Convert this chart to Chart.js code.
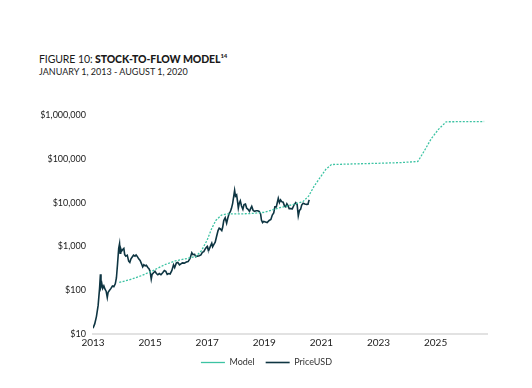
<!DOCTYPE html>
<html>
<head>
<meta charset="utf-8">
<script src="https://cdn.jsdelivr.net/npm/chart.js@4.4.0/dist/chart.umd.min.js"></script>
<style>
  html, body { margin: 0; padding: 0; background: #fff; }
  #wrap { position: relative; width: 532px; height: 388px; }
  #title { position: absolute; left: 39px; top: 52px; font-family: Lato, sans-serif; font-size: 10.5px; color: #1a1a1a; letter-spacing: -0.1px; }
  #title b { font-weight: 900; }
  #title sup { font-size: 6px; font-weight: 900; }
  #sub { position: absolute; left: 39px; top: 66px; font-family: Lato, sans-serif; font-size: 9px; color: #222; }
  canvas { position: absolute; left: 0; top: 0; }
</style>
</head>
<body>
<div id="wrap">
  <div id="title">FIGURE 10: <b>STOCK-TO-FLOW MODEL</b><sup>14</sup></div>
  <div id="sub">JANUARY 1, 2013 - AUGUST 1, 2020</div>
  <canvas id="myChart" width="532" height="388"></canvas>
</div>
<script>
// model (stock-to-flow)
const modelYears = [2013.92, 2014.3, 2014.7, 2015.1, 2015.5, 2015.9, 2016.3, 2016.6, 2016.8, 2017.0, 2017.15, 2017.3, 2017.5, 2017.7, 2018.0, 2018.5, 2019.0, 2019.5, 2020.0, 2020.35, 2020.55, 2020.75, 2020.95, 2021.15, 2021.35, 2022.0, 2023.0, 2023.8, 2024.38, 2024.6, 2024.85, 2025.1, 2025.37, 2026.7];
const modelValues = [150, 175, 215, 280, 380, 470, 530, 590, 800, 1400, 2500, 3900, 5200, 5500, 5500, 5600, 6000, 7500, 9000, 10500, 14000, 24000, 37000, 57000, 74000, 76000, 79000, 82000, 87000, 150000, 290000, 470000, 700000, 710000];

// BTC price in USD
const priceYears = [
  2013.00, 2013.06, 2013.12, 2013.18, 2013.23, 2013.26, 2013.28, 2013.31, 2013.34, 2013.38, 2013.42, 2013.46, 2013.50, 2013.53, 2013.58, 2013.63, 2013.68, 2013.73, 2013.78, 2013.82, 2013.86, 2013.90, 2013.93, 2013.95, 2013.97,
  2014.00, 2014.04, 2014.08, 2014.11, 2014.15, 2014.20, 2014.25, 2014.29, 2014.33, 2014.38, 2014.42, 2014.47, 2014.51, 2014.55, 2014.60, 2014.65, 2014.70, 2014.74, 2014.78, 2014.83, 2014.87, 2014.92, 2014.96,
  2015.00, 2015.04, 2015.07, 2015.12, 2015.17, 2015.22, 2015.27, 2015.32, 2015.38, 2015.44, 2015.50, 2015.55, 2015.60, 2015.65, 2015.70, 2015.76, 2015.82, 2015.86, 2015.92, 2015.97,
  2016.03, 2016.08, 2016.13, 2016.20, 2016.27, 2016.33, 2016.40, 2016.46, 2016.50, 2016.56, 2016.60, 2016.66, 2016.72, 2016.78, 2016.83, 2016.88, 2016.94,
  2017.00, 2017.02, 2017.06, 2017.11, 2017.16, 2017.19, 2017.23, 2017.28, 2017.33, 2017.38, 2017.42, 2017.46, 2017.51, 2017.54, 2017.58, 2017.63, 2017.68, 2017.72, 2017.77, 2017.81, 2017.85, 2017.89, 2017.93, 2017.96, 2017.99,
  2018.03, 2018.06, 2018.09, 2018.12, 2018.16, 2018.20, 2018.25, 2018.29, 2018.34, 2018.38, 2018.43, 2018.48, 2018.52, 2018.56, 2018.61, 2018.66, 2018.71, 2018.77, 2018.82, 2018.87, 2018.90, 2018.94, 2018.98,
  2019.04, 2019.10, 2019.17, 2019.23, 2019.28, 2019.33, 2019.37, 2019.42, 2019.47, 2019.49, 2019.53, 2019.57, 2019.61, 2019.66, 2019.71, 2019.75, 2019.79, 2019.83, 2019.87, 2019.92, 2019.98,
  2020.04, 2020.10, 2020.15, 2020.19, 2020.23, 2020.27, 2020.31, 2020.36, 2020.42, 2020.48, 2020.53, 2020.56, 2020.58
];
const priceValues = [
  13.5, 17, 25, 45, 110, 230, 120, 140, 110, 125, 105, 95, 68, 90, 100, 110, 125, 120, 140, 190, 400, 900, 1150, 700, 900,
  780, 850, 900, 650, 600, 630, 460, 430, 520, 580, 630, 600, 640, 590, 520, 480, 400, 340, 380, 360, 370, 330, 310,
  270, 180, 230, 250, 270, 240, 225, 240, 225, 250, 280, 270, 230, 240, 235, 280, 380, 330, 420, 430,
  380, 400, 420, 415, 440, 450, 530, 720, 650, 660, 580, 600, 610, 640, 730, 760, 900,
  1000, 900, 830, 1000, 1180, 980, 1100, 1250, 1700, 2300, 2600, 2500, 2300, 2700, 3900, 4500, 3400, 4400, 5700, 6200, 7400, 9500, 14000, 19000, 14000,
  15000, 11000, 7500, 9500, 11000, 8500, 7000, 9000, 9300, 7500, 7000, 6300, 7300, 8200, 6600, 6300, 6500, 6500, 6300, 5500, 4000, 3500, 3700,
  3600, 3500, 3900, 4100, 5200, 5800, 8000, 8000, 11000, 12500, 10000, 11500, 10500, 10200, 8300, 8000, 9400, 8500, 7300, 7300, 7200,
  8800, 10000, 9000, 5000, 6600, 7000, 8800, 9700, 9300, 9100, 9200, 11000, 11500
];

const xTicks = [2013, 2015, 2017, 2019, 2021, 2023, 2025];
const yTicks = [10, 100, 1000, 10000, 100000, 1000000];

const toXY = (xs, ys) => xs.map((x, i) => ({ x: x, y: ys[i] }));

// the legend in the original sits centred under the plot, a bit higher
const legendShift = {
  id: 'legendShift',
  afterLayout(chart) {
    const l = chart.legend;
    l.left += 17; l.right += 17;
    l.top -= 5; l.bottom -= 5;
  }
};

const ctx = document.getElementById('myChart').getContext('2d');
Chart.defaults.font.family = 'Lato, sans-serif';
Chart.defaults.color = '#222';

new Chart(ctx, {
  type: 'line',
  data: {
    datasets: [{
      label: 'Model',
      data: toXY(modelYears, modelValues),
      borderColor: '#3cc3a3',
      borderWidth: 1.3,
      borderDash: [2, 1.5],
      pointRadius: 0,
      pointStyle: 'line',
      fill: false
    }, {
      label: 'PriceUSD',
      data: toXY(priceYears, priceValues),
      borderColor: '#0e3542',
      borderWidth: 1.6,
      pointRadius: 0,
      pointStyle: 'line',
      fill: false
    }]
  },
  options: {
    responsive: false,
    animation: false,
    layout: { padding: { top: 115, left: 12, right: 45, bottom: 6 } },
    scales: {
      x: {
        type: 'linear',
        min: 2013,
        max: 2026.8,
        afterBuildTicks: (axis) => { axis.ticks = xTicks.map(v => ({ value: v })); },
        ticks: { font: { size: 10 }, padding: 3, maxRotation: 0, callback: (v) => String(v) },
        grid: { display: false, drawTicks: false },
        border: { color: '#e2e2e2', width: 2 }
      },
      y: {
        type: 'logarithmic',
        min: 10,
        max: 1000000,
        afterBuildTicks: (axis) => { axis.ticks = yTicks.map(v => ({ value: v })); },
        afterFit: (axis) => { axis.width = 81; },
        ticks: { font: { size: 9 }, padding: 7, callback: (v) => '$' + Number(v).toLocaleString('en-US') },
        grid: { display: false, drawTicks: false },
        border: { display: false }
      }
    },
    plugins: {
      legend: {
        position: 'bottom',
        labels: { usePointStyle: true, pointStyleWidth: 24, boxHeight: 6, font: { size: 9 }, color: '#333', padding: 11 }
      },
      tooltip: { enabled: false }
    }
  },
  plugins: [legendShift]
});
</script>
</body>
</html>
